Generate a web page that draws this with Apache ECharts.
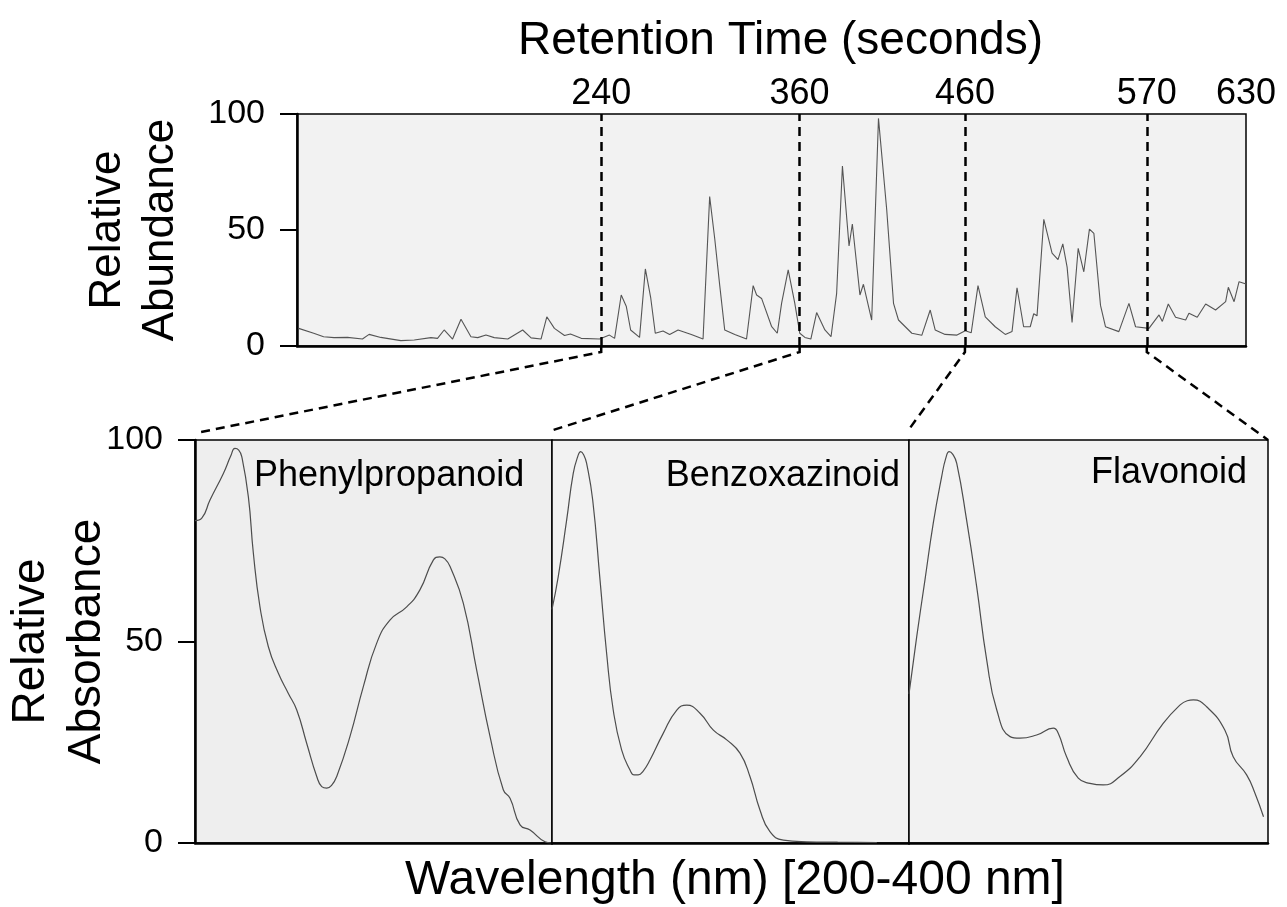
<!DOCTYPE html>
<html>
<head>
<meta charset="utf-8">
<script src="https://cdn.jsdelivr.net/npm/echarts@6/dist/echarts.min.js"></script>
<style>
  html, body { margin: 0; padding: 0; background: #fff; }
  #chart { width: 1287px; height: 907px; }
</style>
</head>
<body>
<div id="chart"></div>
<script>
// ---------- Data ----------
// Chromatogram (retention time in seconds vs relative abundance)
const rtTime = [57.0, 66.1, 72.1, 78.4, 86.5, 95.6, 99.6, 106.7, 118.8, 126.9, 137.0, 141.0, 145.0, 150.1, 155.2, 161.2, 165.3, 170.3, 175.3, 183.5, 192.5, 197.6, 203.6, 207.1, 211.7, 217.8, 221.4, 227.9, 239.0, 245.0, 248.1, 252.1, 255.2, 257.8, 263.2, 266.7, 269.9, 272.7, 277.4, 281.4, 286.5, 294.5, 301.6, 305.6, 308.7, 311.7, 314.7, 320.8, 327.9, 331.9, 334.0, 337.0, 343.0, 346.5, 349.1, 353.1, 357.1, 360.1, 363.2, 366.8, 370.3, 375.3, 379.0, 382.4, 385.9, 389.9, 391.9, 396.5, 398.6, 403.6, 407.7, 412.7, 416.8, 419.8, 427.9, 433.9, 439.0, 442.0, 448.0, 455.2, 460.2, 463.8, 467.9, 472.3, 478.3, 484.4, 488.5, 491.5, 495.5, 499.5, 501.6, 503.6, 507.7, 512.7, 516.3, 519.2, 521.8, 524.8, 528.5, 531.9, 535.3, 538.0, 542.0, 545.0, 553.1, 559.2, 563.2, 571.3, 577.4, 579.4, 583.0, 587.4, 593.5, 595.5, 600.5, 605.6, 611.6, 617.7, 619.3, 622.8, 625.8, 630.0];
const rtAbundance = [7.6, 5.5, 4.0, 3.6, 3.7, 3.0, 5.0, 3.7, 2.3, 2.6, 3.6, 3.3, 6.9, 3.0, 11.5, 4.0, 3.6, 4.7, 3.6, 3.0, 6.9, 3.5, 3.0, 12.6, 7.6, 4.5, 5.2, 3.3, 3.0, 4.7, 3.3, 22.0, 17.0, 6.9, 3.7, 33.2, 21.0, 5.5, 6.5, 5.0, 6.9, 5.0, 3.0, 64.4, 46.0, 26.0, 6.9, 5.0, 3.0, 26.0, 22.0, 20.5, 8.5, 5.5, 18.4, 32.8, 18.4, 5.5, 3.7, 3.0, 14.4, 6.9, 4.0, 22.7, 77.6, 43.1, 52.6, 22.0, 26.6, 11.2, 98.1, 58.6, 18.4, 11.2, 5.5, 4.6, 15.5, 6.9, 5.0, 4.7, 6.6, 5.7, 26.0, 12.6, 8.3, 5.0, 6.3, 25.1, 8.3, 8.3, 13.9, 13.0, 54.6, 40.0, 37.2, 44.0, 34.0, 10.1, 42.1, 32.0, 50.4, 48.5, 17.5, 8.3, 6.2, 18.4, 8.3, 7.6, 13.4, 10.6, 18.1, 12.4, 11.2, 14.1, 12.4, 18.1, 15.5, 19.1, 25.3, 19.1, 27.7, 26.7];

// Marked retention times (dashed lines) and top axis tick labels
const markedTimes = [240, 360, 460, 570];
const topTickLabels = [240, 360, 460, 570, 630];

// UV spectra (wavelength nm vs relative absorbance)
const phenylWl  = [200, 203.8, 208.4, 215.9, 220.0, 222.4, 224.5, 226.2, 229.9, 232.7, 236.4, 241.1, 246.7, 252.3, 257.0, 262.6, 268.2, 271.0, 273.8, 276.5, 279.4, 286.8, 294.3, 301.8, 309.2, 318.6, 326.0, 333.5, 337.2, 340.0, 342.9, 350.3, 357.8, 365.3, 372.7, 376.5, 382.1, 387.7, 396.1, 399.4];
const phenylAbs = [80.0, 80.6, 85.1, 91.7, 96.0, 97.9, 97.5, 95.9, 85.9, 71.9, 58.6, 48.7, 42.1, 37.1, 33.0, 24.7, 16.5, 14.0, 13.6, 14.3, 16.5, 26.4, 38.8, 49.6, 55.3, 58.6, 62.8, 70.2, 71.0, 70.5, 68.6, 59.5, 42.9, 26.4, 13.2, 11.1, 4.5, 3.2, 0.3, 0.0];

const benzWl  = [200, 203.5, 208.2, 211.9, 214.5, 216.1, 217.8, 219.4, 222.8, 226.9, 230.6, 234.3, 239.0, 243.7, 246.0, 248.3, 251.0, 254.9, 262.3, 269.9, 275.5, 282.9, 290.4, 297.9, 305.3, 310.9, 316.5, 322.1, 329.6, 342.7, 360.0, 382.0];
const benzAbs = [58.0, 66.1, 80.1, 91.7, 96.0, 97.1, 96.3, 94.2, 85.1, 65.3, 47.1, 33.0, 23.1, 18.1, 16.9, 16.9, 17.8, 20.6, 27.2, 33.0, 34.2, 32.2, 28.0, 25.6, 22.3, 16.5, 8.2, 2.8, 0.7, 0.3, 0.2, 0.1];

const flavWl  = [200, 204.3, 208.9, 213.5, 218.2, 220.5, 222.4, 224.3, 226.6, 232.1, 237.7, 243.3, 248.9, 256.3, 261.8, 271.1, 280.4, 283.2, 287.8, 294.3, 300.8, 308.2, 317.5, 328.7, 341.6, 350.9, 355.0, 358.4, 365.8, 376.0, 380.6, 388.1, 392.8, 397.5];
const flavAbs = [37.0, 51.2, 65.3, 79.3, 90.9, 95.5, 97.1, 96.5, 94.2, 80.1, 63.6, 45.4, 33.0, 26.4, 26.0, 26.8, 28.5, 27.2, 21.4, 16.1, 14.8, 14.4, 16.5, 21.4, 29.7, 34.2, 35.3, 35.5, 33.8, 28.0, 21.4, 16.9, 12.3, 6.5];

const panelNames = ['Phenylpropanoid', 'Benzoxazinoid', 'Flavonoid'];

// ---------- Chart ----------
const FONT = "'Liberation Sans', Arial, sans-serif";
const pair = (xs, ys) => xs.map((x, i) => [x, ys[i]]);

const chart = echarts.init(document.getElementById('chart'), null, { renderer: 'canvas' });

const hiddenYAxis = (gi) => ({
  type: 'value', gridIndex: gi, min: 0, max: 100, interval: 50, show: false
});

const specXAxis = (gi, extra) => Object.assign({
  type: 'value', gridIndex: gi, min: 200, max: 400,
  axisLine: { show: true, onZero: false, lineStyle: { color: '#000', width: 2.5 } },
  axisTick: { show: false }, axisLabel: { show: false }, splitLine: { show: false }
}, extra || {});

// panel index p (0..2) lives in grid p+1, which owns xAxis p+2 and yAxis p+1
const specSeries = (p, xs, ys) => ({
  type: 'line', xAxisIndex: p + 2, yAxisIndex: p + 1, data: pair(xs, ys),
  showSymbol: false, smooth: 0.5,
  lineStyle: { color: '#4d4d4d', width: 1.2 }, silent: true, z: 3
});

const labelStyle = { fontSize: 36, fontWeight: 'normal', color: '#000', fontFamily: FONT };

const gridBase = { show: true, borderColor: '#000', borderWidth: 1.5, containLabel: false, outerBoundsMode: 'none' };

const option = {
  animation: false,
  textStyle: { fontFamily: FONT },
  title: [
    { text: panelNames[0], left: 249, top: 453, textStyle: labelStyle },
    { text: panelNames[1], right: 382, top: 453, textStyle: labelStyle },
    { text: panelNames[2], right: 35, top: 450, textStyle: labelStyle }
  ],
  grid: [
    Object.assign({ left: 297, top: 114, width: 949, height: 232, backgroundColor: '#f2f2f2' }, gridBase),
    Object.assign({ left: 195, top: 440, width: 357, height: 403, backgroundColor: '#eeeeee' }, gridBase),
    Object.assign({ left: 552, top: 440, width: 357, height: 403, backgroundColor: '#f2f2f2' }, gridBase),
    Object.assign({ left: 909, top: 440, width: 359, height: 403, backgroundColor: '#f2f2f2' }, gridBase)
  ],
  xAxis: [
    { type: 'value', gridIndex: 0, min: 56, max: 630, position: 'bottom',
      axisLine: { show: true, onZero: false, lineStyle: { color: '#000', width: 2.5 } },
      axisTick: { show: false }, axisLabel: { show: false }, splitLine: { show: false } },
    { type: 'value', gridIndex: 0, min: 56, max: 630, position: 'top',
      axisLine: { show: false }, axisTick: { show: false }, splitLine: { show: false },
      axisLabel: { show: true, customValues: topTickLabels, fontSize: 36, color: '#000', margin: 2, fontFamily: FONT },
      name: 'Retention Time (seconds)', nameLocation: 'middle', nameGap: 50,
      nameTextStyle: { fontSize: 46, color: '#000', fontFamily: FONT, padding: [0, 0, 0, 18] } },
    specXAxis(1),
    specXAxis(2, { name: 'Wavelength (nm) [200-400 nm]', nameLocation: 'middle', nameGap: 14,
      nameTextStyle: { fontSize: 48, color: '#000', fontFamily: FONT, padding: [0, 0, 0, 9], lineHeight: 48 } }),
    specXAxis(3)
  ],
  yAxis: [
    { type: 'value', gridIndex: 0, min: 0, max: 100, interval: 50,
      axisLine: { show: true, lineStyle: { color: '#000', width: 2.5 } },
      axisTick: { show: true, inside: false, length: 17, lineStyle: { color: '#000', width: 2 } },
      axisLabel: { fontSize: 34, color: '#000', margin: 32, fontFamily: FONT },
      splitLine: { show: false },
      name: 'Relative\nAbundance', nameLocation: 'middle', nameRotate: 90, nameGap: 110,
      nameMoveOverlap: false,
      nameTextStyle: { fontSize: 44, lineHeight: 53, color: '#000', fontFamily: FONT } },
    { type: 'value', gridIndex: 1, min: 0, max: 100, interval: 50,
      axisLine: { show: true, lineStyle: { color: '#000', width: 2.5 } },
      axisTick: { show: true, inside: false, length: 17, lineStyle: { color: '#000', width: 2 } },
      axisLabel: { fontSize: 34, color: '#000', margin: 32, fontFamily: FONT },
      splitLine: { show: false },
      name: 'Relative\nAbsorbance', nameLocation: 'middle', nameRotate: 90, nameGap: 80,
      nameMoveOverlap: false,
      nameTextStyle: { fontSize: 46, lineHeight: 56, color: '#000', fontFamily: FONT } },
    hiddenYAxis(2),
    hiddenYAxis(3)
  ],
  series: [
    { type: 'line', xAxisIndex: 0, yAxisIndex: 0, data: pair(rtTime, rtAbundance),
      showSymbol: false, lineStyle: { color: '#555', width: 1.1 }, silent: true, z: 3,
      markLine: {
        silent: true, symbol: ['none', 'none'], label: { show: false },
        lineStyle: { color: '#000', width: 2.5, type: [9, 6] },
        data: markedTimes.map(t => ({ xAxis: t }))
      } },
    specSeries(0, phenylWl, phenylAbs),
    specSeries(1, benzWl, benzAbs),
    specSeries(2, flavWl, flavAbs)
  ]
};

chart.setOption(option);

// Dashed connectors from each marked retention time to its spectrum panel
function drawConnectors() {
  const bottomY = chart.convertToPixel({ yAxisIndex: 0 }, 0);
  const corners = [1, 2, 3].map(g => ({
    tl: chart.convertToPixel({ gridIndex: g }, [200, 100]),
    tr: chart.convertToPixel({ gridIndex: g }, [400, 100])
  }));
  const targets = [
    [corners[0].tl[0] + 6, corners[0].tl[1] - 8],
    [corners[1].tl[0] - 2, corners[1].tl[1] - 9],
    [corners[2].tl[0] + 1, corners[2].tl[1] - 12],
    [corners[2].tr[0], corners[2].tr[1]]
  ];
  const elements = markedTimes.map((t, i) => {
    const x = chart.convertToPixel({ xAxisIndex: 0 }, t);
    return {
      type: 'polyline', silent: true, z: 10,
      shape: { points: [[x, bottomY], [x, bottomY + 6], targets[i]] },
      style: { stroke: '#000', lineWidth: 2.5, lineDash: [9, 6], fill: null }
    };
  });
  chart.setOption({ graphic: elements });
}
drawConnectors();
</script>
</body>
</html>
